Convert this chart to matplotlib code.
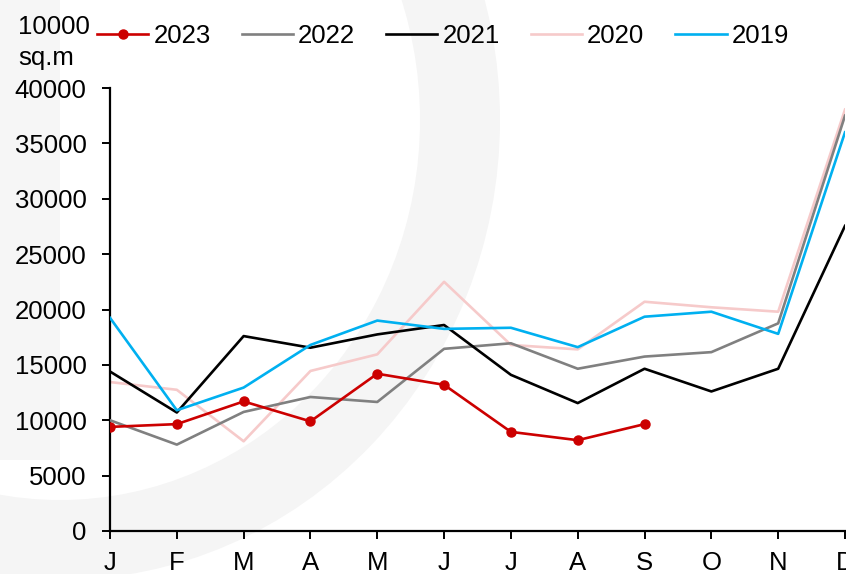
import matplotlib
matplotlib.use("Agg")
import matplotlib.pyplot as plt
from matplotlib.patches import Ellipse, Rectangle

plt.rcParams['font.family'] = ['Liberation Sans', 'DejaVu Sans']

# ─── Data ──────────────────────────────────────────────────────────
months = ['J', 'F', 'M', 'A', 'M', 'J', 'J', 'A', 'S', 'O', 'N', 'D']
y2023 = [9400, 9650, 11700, 9900, 14200, 13200, 8950, 8200, 9650]
y2022 = [10000, 7800, 10750, 12100, 11650, 16450, 16950, 14650, 15750, 16150, 18750, 37500]
y2021 = [14400, 10700, 17600, 16550, 17750, 18600, 14100, 11550, 14650, 12600, 14650, 27550]
y2020 = [13450, 12750, 8100, 14450, 15950, 22500, 16800, 16400, 20700, 20200, 19800, 38050]
y2019 = [19250, 10900, 12950, 16800, 19000, 18250, 18350, 16600, 19350, 19800, 17800, 36000]

FS = 18.5

fig = plt.figure(figsize=(8.46, 5.74), dpi=100, facecolor='white')

# ─── Faint watermark behind the chart ──────────────────────────────
wm = '#f5f5f5'
fig.add_artist(Ellipse((60 / 846, 1 - 120 / 574), 880 / 846, 920 / 574,
                       transform=fig.transFigure, facecolor=wm, edgecolor='none', zorder=0))
fig.add_artist(Ellipse((60 / 846, 1 - 120 / 574), 720 / 846, 760 / 574,
                       transform=fig.transFigure, facecolor='white', edgecolor='none', zorder=0))
fig.add_artist(Rectangle((0, 1 - 460 / 574), 60 / 846, 460 / 574,
                         transform=fig.transFigure, facecolor='#f6f6f6', edgecolor='none', zorder=0))

ax = fig.add_axes([110 / 846, 43 / 574, 735 / 846, 443 / 574])
ax.patch.set_alpha(0)

x = list(range(len(months)))
ax.plot(x[:len(y2023)], y2023, color='#cc0000', lw=1.9, marker='o', ms=6.5, label='2023', zorder=6)
ax.plot(x, y2022, color='#808080', lw=1.9, label='2022', zorder=3)
ax.plot(x, y2021, color='black', lw=1.9, label='2021', zorder=4)
ax.plot(x, y2020, color='#f6caca', lw=1.9, label='2020', zorder=2)
ax.plot(x, y2019, color='#00b0f0', lw=1.9, label='2019', zorder=5)

ax.set_xlim(0, 11)
ax.set_ylim(0, 40000)
ax.set_yticks(range(0, 40001, 5000))
ax.set_xticks(x)
ax.set_xticklabels(months)

for s in ['top', 'right']:
    ax.spines[s].set_visible(False)
for s in ['left', 'bottom']:
    ax.spines[s].set_linewidth(1.6)
ax.tick_params(axis='both', direction='out', length=6, width=1.4, labelsize=FS, colors='black')
ax.tick_params(axis='x', pad=8.5)
ax.tick_params(axis='y', pad=11)
for lab in ax.get_xticklabels() + ax.get_yticklabels():
    lab.set_clip_on(False)

# ─── Unit label and legend ─────────────────────────────────────────
fig.text(18 / 846, 1 - 34 / 574, '10000', fontsize=FS, va='baseline', ha='left')
fig.text(18 / 846, 1 - 65 / 574, 'sq.m', fontsize=FS, va='baseline', ha='left')

fig.legend(loc='center left', bbox_to_anchor=(97 / 846, 1 - 36 / 574), ncol=5,
           frameon=False, fontsize=FS, handlelength=2.0, handletextpad=0.2,
           columnspacing=1.2, borderaxespad=0, borderpad=0)

fig.savefig('out.png', dpi=100, facecolor='white')
